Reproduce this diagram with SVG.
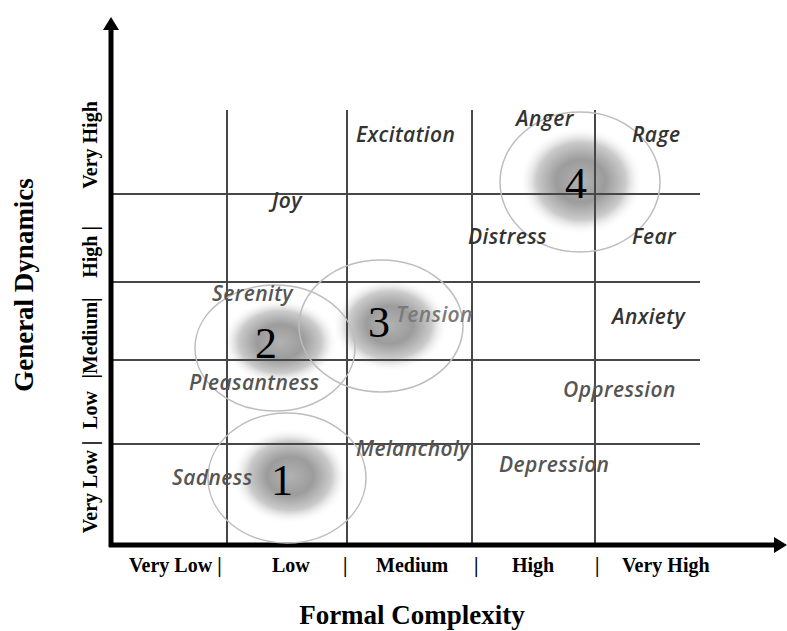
<svg xmlns="http://www.w3.org/2000/svg" width="787" height="631" viewBox="0 0 787 631">
<style>
.grid{stroke:#474747;stroke-width:2;fill:none}
.ring{fill:none;stroke:#bdbdbd;stroke-width:1.5}
.axis{stroke:#000;stroke-width:5;fill:none}
.emo{font-family:"Open Sans","DejaVu Sans",sans-serif;font-style:italic;font-weight:600;font-size:21px;letter-spacing:0.4px;fill:#333}
.lt{fill:#555}
.lt2{fill:#7a7a7a}
.num{font-family:"Liberation Serif","Times New Roman",serif;font-size:44px;fill:#000}
.tick{font-family:"Liberation Serif","Times New Roman",serif;font-weight:bold;font-size:20px;fill:#000}
.title{font-family:"Liberation Serif","Times New Roman",serif;font-weight:bold;font-size:27px;fill:#000}
</style>
<defs>
<radialGradient id="blob">
<stop offset="0" stop-color="#b2b2b2"/>
<stop offset="0.4" stop-color="#9c9c9c"/>
<stop offset="0.72" stop-color="#cbcbcb"/>
<stop offset="1" stop-color="#ffffff" stop-opacity="0"/>
</radialGradient>
<marker id="arr" markerUnits="userSpaceOnUse" markerWidth="14" markerHeight="18" refX="2" refY="9" orient="auto">
<path d="M0,1 L13,9 L0,17 Z" fill="#000"/>
</marker>
</defs>
<rect width="787" height="631" fill="#fff"/>

<g id="blobs">
<ellipse cx="581" cy="181" rx="62" ry="54" fill="url(#blob)"/>
<ellipse cx="290" cy="476" rx="58" ry="48" fill="url(#blob)"/>
<ellipse cx="280" cy="342" rx="58" ry="43" fill="url(#blob)"/>
<ellipse cx="390" cy="325" rx="58" ry="47" fill="url(#blob)"/>
</g>

<g id="grid">
<line class="grid" x1="227" y1="110" x2="227" y2="545"/>
<line class="grid" x1="347" y1="110" x2="347" y2="545"/>
<line class="grid" x1="472" y1="110" x2="472" y2="545"/>
<line class="grid" x1="595" y1="110" x2="595" y2="545"/>
<line class="grid" x1="111" y1="194" x2="700" y2="194"/>
<line class="grid" x1="111" y1="282" x2="700" y2="282"/>
<line class="grid" x1="111" y1="360" x2="700" y2="360"/>
<line class="grid" x1="111" y1="444" x2="700" y2="444"/>
</g>

<g id="connectors">
<line class="axis" x1="111" y1="547" x2="111" y2="28" marker-end="url(#arr)"/>
<line class="axis" x1="109" y1="545" x2="776" y2="545" marker-end="url(#arr)"/>
</g>

<g id="cluster-1">
<ellipse class="ring" cx="287" cy="478" rx="79" ry="65"/>
<text class="num" x="282" y="495" text-anchor="middle">1</text>
</g>
<g id="cluster-2">
<ellipse class="ring" cx="275" cy="348" rx="80" ry="63"/>
<text class="num" x="266" y="358" text-anchor="middle">2</text>
</g>
<g id="cluster-3">
<ellipse class="ring" cx="381" cy="326" rx="82" ry="66"/>
<text class="num" x="379" y="337" text-anchor="middle">3</text>
</g>
<g id="cluster-4">
<ellipse class="ring" cx="580" cy="182" rx="80" ry="70"/>
<text class="num" x="576" y="198" text-anchor="middle">4</text>
</g>

<g id="emotions">
<text class="emo" x="356" y="142">Excitation</text>
<text class="emo" x="272" y="208">Joy</text>
<text class="emo" x="516" y="126">Anger</text>
<text class="emo" x="632" y="142">Rage</text>
<text class="emo" x="468" y="244">Distress</text>
<text class="emo" x="632" y="244">Fear</text>
<text class="emo lt" x="212" y="301">Serenity</text>
<text class="emo lt2" x="396" y="322">Tension</text>
<text class="emo" x="612" y="324">Anxiety</text>
<text class="emo lt" x="189" y="390">Pleasantness</text>
<text class="emo lt" x="563" y="397">Oppression</text>
<text class="emo lt" x="356" y="456">Melancholy</text>
<text class="emo lt" x="499" y="472">Depression</text>
<text class="emo lt" x="172" y="485">Sadness</text>
</g>

<g id="x-ticks">
<text class="tick" x="129" y="572">Very Low |</text>
<text class="tick" x="272" y="572">Low</text>
<text class="tick" x="343" y="572">|</text>
<text class="tick" x="376" y="572">Medium</text>
<text class="tick" x="474" y="572">|</text>
<text class="tick" x="512" y="572">High</text>
<text class="tick" x="595" y="572">|</text>
<text class="tick" x="622" y="572">Very High</text>
</g>

<g id="y-ticks">
<text class="tick" transform="translate(97,487) rotate(-90)" text-anchor="middle">Very Low |</text>
<text class="tick" transform="translate(97,410) rotate(-90)" text-anchor="middle">Low</text>
<text class="tick" transform="translate(97,338) rotate(-90)" text-anchor="middle">|Medium|</text>
<text class="tick" transform="translate(97,252) rotate(-90)" text-anchor="middle">High |</text>
<text class="tick" transform="translate(97,145) rotate(-90)" text-anchor="middle">Very High</text>
</g>

<g id="titles">
<text class="title" x="412" y="624" text-anchor="middle">Formal Complexity</text>
<text class="title" transform="translate(33,285) rotate(-90)" text-anchor="middle">General Dynamics</text>
</g>
</svg>
